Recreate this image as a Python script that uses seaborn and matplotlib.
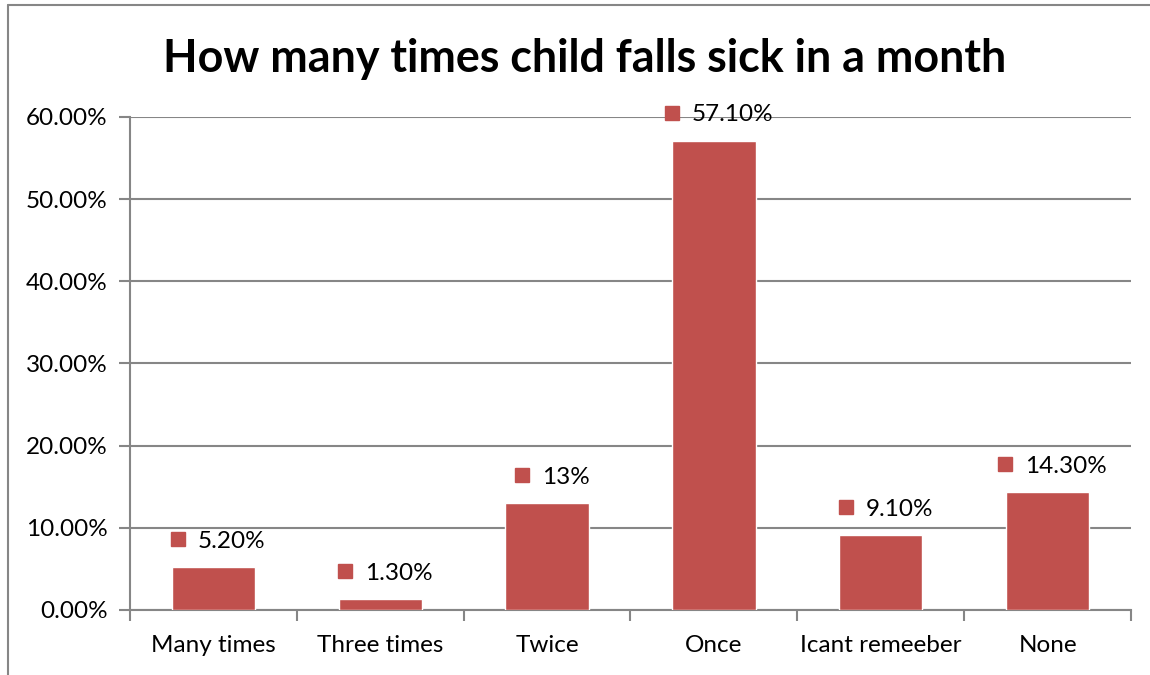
import matplotlib
matplotlib.use("Agg")
import matplotlib.pyplot as plt
from matplotlib.lines import Line2D
from matplotlib.ticker import FuncFormatter, FixedLocator
import matplotlib.transforms as mtransforms
import seaborn as sns
import pandas as pd
import numpy as np

# Survey answers and their shares (percent)
categories = ["Many times", "Three times", "Twice", "Once", "Icant remeeber", "None"]
values = [5.2, 1.3, 13.0, 57.1, 9.1, 14.3]
value_labels = ["5.20%", "1.30%", "13%", "57.10%", "9.10%", "14.30%"]
title = "How many times child falls sick in a month"

BAR = "#C0504D"
GRID = "#868686"
FS = 17.5

sns.set_theme(style="white")
plt.rcParams["font.family"] = ["Lato", "DejaVu Sans"]

df = pd.DataFrame({"answer": categories, "share": values})

fig = plt.figure(figsize=(11.5, 6.75), dpi=100)
ax = fig.add_axes([0.113, 0.0963, 0.8705, 0.7304])

sns.barplot(data=df, x="answer", y="share", color=BAR, saturation=1,
            width=0.5, ax=ax, zorder=3)

ax.set_ylim(0, 60)
ax.set_xlim(-0.5, len(categories) - 0.5)
ax.set_yticks(np.arange(0, 61, 10))
ax.yaxis.set_major_formatter(FuncFormatter(lambda v, _: f"{v:.2f}%"))
ax.yaxis.grid(True, color=GRID, linewidth=1.5, zorder=0)
ax.set_axisbelow(True)
ax.set_xlabel("")
ax.set_ylabel("")

for side in ["top", "right"]:
    ax.spines[side].set_visible(False)
for side in ["left", "bottom"]:
    ax.spines[side].set_color(GRID)
    ax.spines[side].set_linewidth(1.5)

ax.tick_params(axis="y", which="major", direction="out", length=8, width=1.5,
               color=GRID, labelsize=FS, pad=8, left=True)
ax.tick_params(axis="x", which="major", length=0, labelsize=FS, pad=18)
ax.xaxis.set_minor_locator(FixedLocator(np.arange(-0.5, len(categories), 1.0)))
ax.tick_params(axis="x", which="minor", direction="out", length=8, width=1.5,
               color=GRID, bottom=True)
for lbl in ax.get_yticklabels() + ax.get_xticklabels():
    lbl.set_color("black")

fig.text(0.508, 0.9126, title, ha="center", va="center", fontsize=32.3,
         fontweight="bold", color="black")

# Value labels: a small square key followed by the value, centred above each bar
fig.canvas.draw()
renderer = fig.canvas.get_renderer()
sq, gap, rise = 14, 13, 26
for i, (v, lab) in enumerate(zip(values, value_labels)):
    t = ax.annotate(lab, xy=(i, v), xytext=(0, rise), textcoords="offset pixels",
                    ha="left", va="center", fontsize=FS, color="black", zorder=5)
    w = t.get_window_extent(renderer).width
    left = 5 - (sq + gap + w) / 2
    t.set_position((left + sq + gap, rise))
    trans = mtransforms.offset_copy(ax.transData, fig=fig,
                                    x=(left + sq / 2) / 100, y=(rise + 2) / 100,
                                    units="inches")
    ax.plot([i], [v], marker="s", markersize=10, color=BAR, linestyle="none",
            transform=trans, clip_on=False, zorder=5)

# Outer chart frame (left and top edges)
fig.add_artist(Line2D([8 / 1150, 8 / 1150], [0, 1 - 5 / 675], color=GRID,
                      linewidth=1.5, transform=fig.transFigure))
fig.add_artist(Line2D([8 / 1150, 1], [1 - 5 / 675, 1 - 5 / 675], color=GRID,
                      linewidth=1.5, transform=fig.transFigure))

fig.savefig("out.png", dpi=100, facecolor="white")
